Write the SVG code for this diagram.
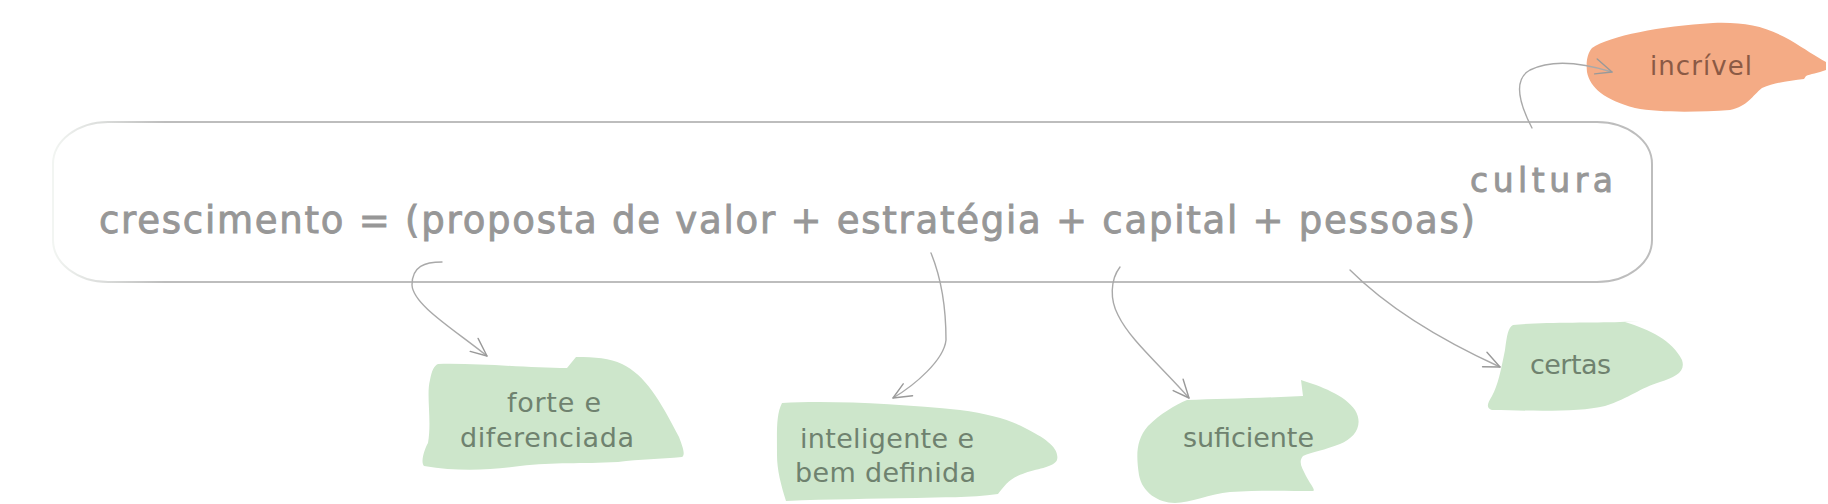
<svg xmlns="http://www.w3.org/2000/svg" width="1828" height="504" viewBox="0 0 1828 504">
<style>
.main{font-family:"DejaVu Sans","Liberation Sans",sans-serif;fill:#979797;stroke:#979797;stroke-width:0.9;}
.lbl{font-family:"DejaVu Sans","Liberation Sans",sans-serif;font-size:27px;fill:#6f826f;}
.blob{fill:#cde6cb;}
.conn{fill:none;stroke:#a9a9a9;stroke-width:1.4;stroke-linecap:round;}
</style>
<defs>
<linearGradient id="edge" x1="0" y1="0" x2="1" y2="0">
<stop offset="0" stop-color="#f2f5f2"/>
<stop offset="0.07" stop-color="#bdbdbd"/>
<stop offset="1" stop-color="#bdbdbd"/>
</linearGradient>
<marker id="arr" markerUnits="userSpaceOnUse" markerWidth="30" markerHeight="30" refX="20" refY="10" orient="auto" viewBox="0 0 30 20">
<path d="M2,2 L20,10 L4,17" fill="none" stroke="#999" stroke-width="1.4" stroke-linecap="round" stroke-linejoin="round"/>
</marker>
</defs>

<g id="node-main">
<rect x="53" y="122" width="1599" height="160" rx="55" ry="42" fill="#fff" stroke="url(#edge)" stroke-width="2"/>
<text class="main" x="99" y="233" font-size="37" textLength="1376" lengthAdjust="spacing">crescimento = (proposta de valor + estratégia + capital + pessoas)</text>
<text class="main" x="1470" y="192" font-size="33" textLength="143" lengthAdjust="spacing">cultura</text>
</g>

<g id="node-incrivel">
<path fill="#f4ab85" d="M1592,48 C1610,36 1660,26 1713,23 C1745,22 1765,26 1790,40 C1805,49 1815,56 1826,62 L1826,70 C1818,73 1810,74 1806,76 L1804,79 C1790,81 1775,82 1762,88 C1752,96 1748,106 1730,110 C1700,112 1660,113 1635,108 C1605,100 1590,88 1587,72 C1586,62 1587,54 1592,48 Z"/>
<text x="1650" y="75" font-family="DejaVu Sans, Liberation Sans, sans-serif" font-size="26" fill="#8b5a45" textLength="102" lengthAdjust="spacing">incrível</text>
</g>

<g id="node-forte">
<path class="blob" d="M438,364 C480,363 530,368 567,368 L576,357 C595,357 610,358 622,364 C645,375 660,400 679,437 C684,450 685,455 682,457 C660,459 640,459 618,462 C580,464 555,462 520,466 C490,470 460,472 424,466 C420,462 425,448 428,443 C432,420 426,395 430,380 C432,370 434,366 438,364 Z"/>
<text class="lbl" x="507" y="412" textLength="94" lengthAdjust="spacing">forte e</text>
<text class="lbl" x="460" y="447" textLength="174" lengthAdjust="spacing">diferenciada</text>
</g>

<g id="node-inteligente">
<path class="blob" d="M782,403 C830,400 900,404 960,410 C990,414 1010,420 1025,428 C1045,438 1060,448 1057,460 C1054,467 1040,468 1025,473 C1010,478 1005,485 998,494 C970,498 940,497 916,498 C870,499 830,499 786,501 C781,485 777,470 777,455 C777,430 776,415 782,403 Z"/>
<text class="lbl" x="800" y="448" textLength="174" lengthAdjust="spacing">inteligente e</text>
<text class="lbl" x="795" y="482" textLength="181" lengthAdjust="spacing">bem definida</text>
</g>

<g id="node-suficiente">
<path class="blob" d="M1187,400 C1220,399 1260,398 1303,396 L1301,380 C1320,386 1345,395 1355,410 C1364,425 1355,438 1340,444 C1325,450 1312,452 1303,456 C1298,462 1302,468 1306,476 C1310,484 1316,490 1313,491 C1290,491 1260,490 1230,492 C1210,494 1190,503 1175,503 C1158,503 1142,492 1139,475 C1136,455 1136,440 1148,426 C1160,414 1175,405 1187,400 Z"/>
<text class="lbl" x="1183" y="447" textLength="131" lengthAdjust="spacing">suficiente</text>
</g>

<g id="node-certas">
<path class="blob" d="M1513,325 C1540,322 1590,323 1620,322 L1640,321 L1625,322 C1650,330 1672,340 1682,360 C1686,372 1675,377 1660,382 C1640,388 1630,398 1605,406 C1580,412 1540,411 1492,410 C1486,408 1487,404 1492,396 C1498,385 1501,370 1505,350 C1507,335 1508,328 1513,325 Z"/>
<text class="lbl" x="1530" y="374" textLength="81" lengthAdjust="spacing">certas</text>
</g>

<g id="connectors">
<path class="conn" marker-end="url(#arr)" d="M1532,128 C1520,105 1512,80 1530,70 C1550,60 1580,62 1612,72"/>
<path class="conn" marker-end="url(#arr)" d="M442,262 C425,262 412,266 412,285 C413,305 455,330 487,356"/>
<path class="conn" marker-end="url(#arr)" d="M931,253 C940,275 946,305 946,340 C944,360 915,385 893,398"/>
<path class="conn" marker-end="url(#arr)" d="M1120,267 C1110,280 1110,300 1118,315 C1130,340 1160,365 1189,398"/>
<path class="conn" marker-end="url(#arr)" d="M1350,270 C1380,300 1430,335 1500,367"/>
</g>
</svg>
